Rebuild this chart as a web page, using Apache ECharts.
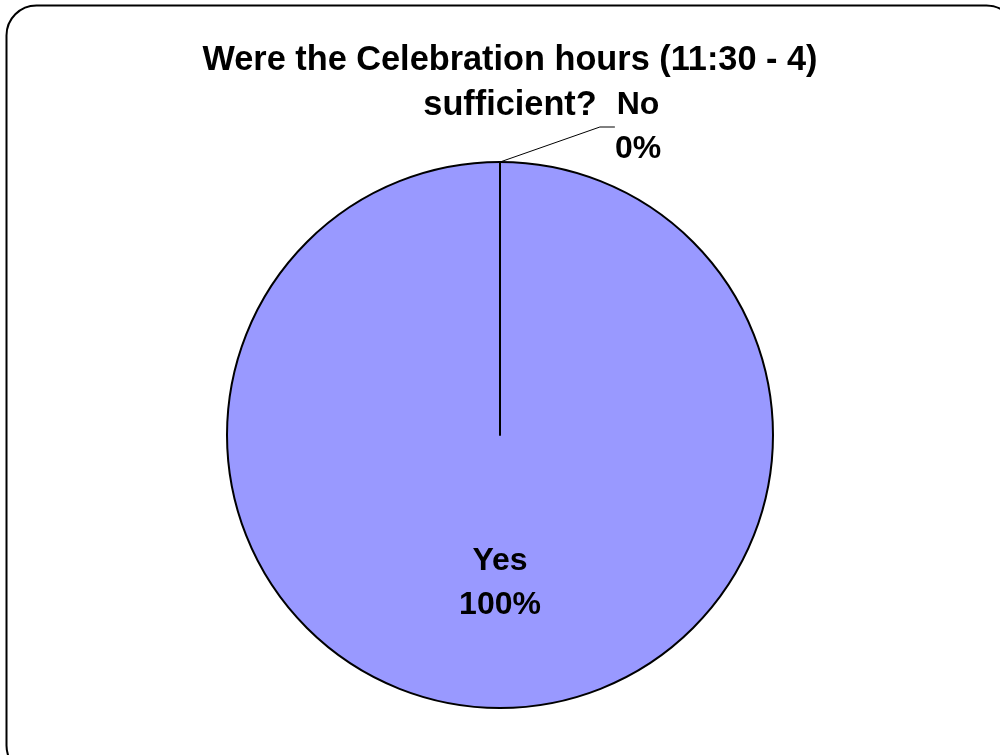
<!DOCTYPE html>
<html><head><meta charset="utf-8">
<script src="https://cdn.jsdelivr.net/npm/echarts@6/dist/echarts.min.js"></script>
<style>html,body{margin:0;padding:0;background:#fff}#c{width:1000px;height:755px}</style>
</head><body><div id="c"></div>
<script>
var titleText = 'Were the Celebration hours (11:30 - 4)\nsufficient?';
var categories = ['Yes', 'No'];
var values = [100, 0];
var percents = ['100%', '0%'];

var chart = echarts.init(document.getElementById('c'));
var data = categories.map(function (c, i) {
  return { name: c, value: values[i] };
});
chart.setOption({
  animation: false,
  backgroundColor: '#fff',
  title: {
    text: titleText, left: 505, top: 33, textAlign: 'center',
    textStyle: { fontFamily: 'Liberation Sans', fontWeight: 'bold', fontSize: 34.3, lineHeight: 45, color: '#000' }
  },
  graphic: [{
    type: 'rect', shape: { x: 6.5, y: 5.5, width: 1010, height: 770, r: 30 },
    style: { fill: 'none', stroke: '#000', lineWidth: 2 }, z: -1
  }],
  series: [{
    type: 'pie', center: [500, 435], radius: 273, startAngle: 90, clockwise: true,
    minAngle: 0, avoidLabelOverlap: false,
    itemStyle: { color: '#9999FF', borderColor: '#000', borderWidth: 2 },
    data: data.map(function (d, i) {
      return Object.assign(d, {
        label: i === 0 ? { position: 'inside', offset: [0, 9] } : { position: 'outside' }
      });
    }),
    label: {
      formatter: function (p) { return p.name + '\n' + percents[p.dataIndex]; },
      fontFamily: 'Liberation Sans', fontWeight: 'bold', fontSize: 32, lineHeight: 44, color: '#000'
    },
    labelLine: { show: true, length: 20, length2: 15, lineStyle: { color: '#000', width: 1 } },
    emphasis: { disabled: true },
    labelLayout: function (p) {
      if (p.dataIndex === 1) {
        return { x: 638, y: 127, align: 'center', verticalAlign: 'middle' };
      }
      return {};
    }
  }]
});
</script></body></html>
